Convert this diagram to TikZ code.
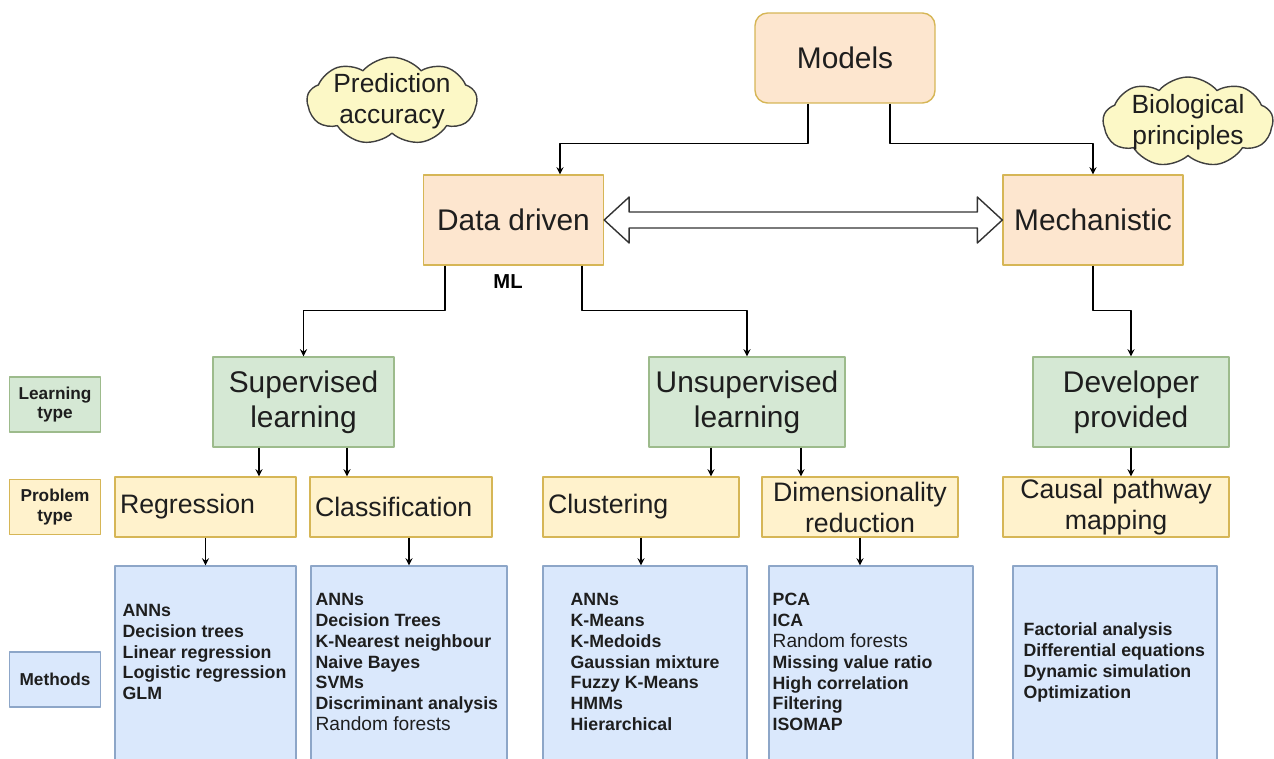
\documentclass[tikz,border=0pt]{standalone}
\usepackage{fontspec}
\setmainfont{Liberation Sans}
\usetikzlibrary{calc,shapes.symbols}
\definecolor{peachfill}{HTML}{FDE6CF}
\definecolor{peachline}{HTML}{D6B656}
\definecolor{greenfill}{HTML}{D5E8D4}
\definecolor{greenline}{HTML}{9DBB8C}
\definecolor{yellowfill}{HTML}{FFF2CC}
\definecolor{yellowline}{HTML}{D6B656}
\definecolor{bluefill}{HTML}{DAE8FC}
\definecolor{blueline}{HTML}{8DA6C8}
\definecolor{cloudfill}{HTML}{FCF8C6}
\definecolor{txt}{HTML}{1E1E1E}
\begin{document}
\begin{tikzpicture}[x=0.02cm, y=-0.02cm, line join=round, >=stealth, text=txt,
	base/.style={draw, line width=0.8pt, inner sep=0pt},
	topbox/.style={base, fill=peachfill, draw=peachline, minimum width=3.6cm, minimum height=1.8cm, font=\fontsize{17}{20}\selectfont},
	learnbox/.style={base, fill=greenfill, draw=greenline, minimum height=1.8cm, align=center, font=\fontsize{17}{20}\selectfont},
	probbox/.style={base, fill=yellowfill, draw=yellowline, minimum height=1.2cm, inner xsep=0.1cm, font=\fontsize{15.2}{17.6}\selectfont},
	methbox/.style={base, fill=bluefill, draw=blueline, minimum height=4.2cm},
	methtext/.style={anchor=west, align=left, inner sep=0pt, font=\fontsize{10.1}{11.9}\selectfont\bfseries},
	keybox/.style={base, minimum width=1.82cm, minimum height=1.1cm, align=center, font=\fontsize{9.8}{11.3}\selectfont\bfseries},
	cloudnode/.style={cloud, cloud puffs=9, cloud puff arc=100, cloud ignores aspect, minimum width=3.4cm, draw=black!75, fill=cloudfill, line width=0.8pt, align=center, inner sep=-8pt, font=\fontsize{15}{17.6}\selectfont},
	link/.style={->, line width=0.8pt},
	dblarrow/.style={draw=black!80, fill=white, line width=0.8pt},
	]
	\useasboundingbox (0,0) rectangle (1274,758);
	\clip (0,0) rectangle (1274,758);
	\def\rf{{\mdseries\fontsize{10.9}{11.9}\selectfont Random forests}}
	
	% top level
	\node[topbox, rounded corners=0.25cm] (models) at (845,58) {Models};
	\node[topbox] (dd) at (513.5,220) {Data driven};
	\node[topbox] (mech) at (1093,220) {Mechanistic};
	\node[cloudnode, minimum height=1.75cm] (acc) at (392,101) {Prediction\\accuracy};
	\node[cloudnode, minimum height=1.8cm] (bio) at (1188,122) {Biological\\principles};
	\node[font=\fontsize{11.5}{13}\selectfont\bfseries, text=black] (ml) at (508,282) {ML};
	
	% learning type
	\node[learnbox, minimum width=3.62cm] (sup) at (303.5,402) {Supervised\\learning};
	\node[learnbox, minimum width=3.92cm] (uns) at (747,402) {Unsupervised\\learning};
	\node[learnbox, minimum width=3.92cm] (dev) at (1131,402) {Developer\\provided};
	
	% problem type
	\node[probbox, text width=3.42cm, align=left] (reg) at (205.5,507) {Regression};
	\node[probbox, text width=3.44cm, align=left] (cls) at (401,507) {Classification};
	\node[probbox, text width=3.72cm, align=left] (clu) at (641,507) {Clustering};
	\node[probbox, text width=3.72cm, align=center] (dim) at (860,507) {Dimensionality\\reduction};
	\node[probbox, text width=4.32cm, align=center] (cau) at (1116,507) {Causal pathway\\mapping};
	
	% methods
	\node[methbox, minimum width=3.62cm] (regm) at (205.5,671) {};
	\node[methbox, minimum width=3.92cm] (clsm) at (409,671) {};
	\node[methbox, minimum width=4.08cm] (clum) at (645,671) {};
	\node[methbox, minimum width=4.08cm] (dimm) at (871,671) {};
	\node[methbox, minimum width=4.08cm] (caum) at (1115,671) {};
	\node[methtext] (regt) at ($(regm.west)+(8,-19)$) {ANNs\\Decision trees\\Linear regression\\Logistic regression\\GLM};
	\node[methtext] (clst) at ($(clsm.west)+(5,-9)$) {ANNs\\Decision Trees\\K-Nearest neighbour\\Naive Bayes\\SVMs\\Discriminant analysis\\\rf};
	\node[methtext] (clut) at ($(clum.west)+(28,-9)$) {ANNs\\K-Means\\K-Medoids\\Gaussian mixture\\Fuzzy K-Means\\HMMs\\Hierarchical};
	\node[methtext] (dimt) at ($(dimm.west)+(4,-9)$) {PCA\\ICA\\\rf\\Missing value ratio\\High correlation\\Filtering\\ISOMAP};
	\node[methtext] (caut) at ($(caum.west)+(11,-8.5)$) {Factorial analysis\\Differential equations\\Dynamic simulation\\Optimization};
	
	% legend
	\node[keybox, fill=greenfill, draw=greenline] (kl) at (55,404.5) {Learning\\type};
	\node[keybox, fill=yellowfill, draw=yellowline] (kp) at (55,507) {Problem\\type};
	\node[keybox, fill=bluefill, draw=blueline] (km) at (55,679.5) {Methods};
	
	% connectors
	\draw[link] ($(models.south)+(-37,0)$) -- ++(0,40) -| ($(dd.north)+(46.5,0)$);
	\draw[link] ($(models.south)+(45,0)$) -- ++(0,40) -| (mech.north);
	\draw[dblarrow] (dd.east) -- ++(25,-23) -- ++(0,15) -- ($(mech.west)+(-25,-8)$) -- ++(0,-15) -- (mech.west)
		-- ++(-25,23) -- ++(0,-15) -- ($(dd.east)+(25,8)$) -- ++(0,15) -- cycle;
	\draw[link] ($(dd.south)+(-68.5,0)$) -- ++(0,45) -| (sup.north);
	\draw[link] ($(dd.south)+(68.5,0)$) -- ++(0,45) -| (uns.north);
	\draw[link] (mech.south) -- ++(0,45) -| (dev.north);
	\draw[link] ($(sup.south)+(-44.5,0)$) coordinate (s1) -- (s1 |- reg.north);
	\draw[link] ($(sup.south)+(43.5,0)$) coordinate (s2) -- (s2 |- cls.north);
	\draw[link] ($(uns.south)+(-36,0)$) coordinate (u1) -- (u1 |- clu.north);
	\draw[link] ($(uns.south)+(54,0)$) coordinate (u2) -- (u2 |- dim.north);
	\draw[link] (dev.south) -- (dev.south |- cau.north);
	\draw[link] (reg.south) -- (reg.south |- regm.north);
	\draw[link] (clsm.north |- cls.south) -- (clsm.north);
	\draw[link] (clu.south) -- (clu.south |- clum.north);
	\draw[link] (dim.south) -- (dim.south |- dimm.north);
\end{tikzpicture}
\end{document}
